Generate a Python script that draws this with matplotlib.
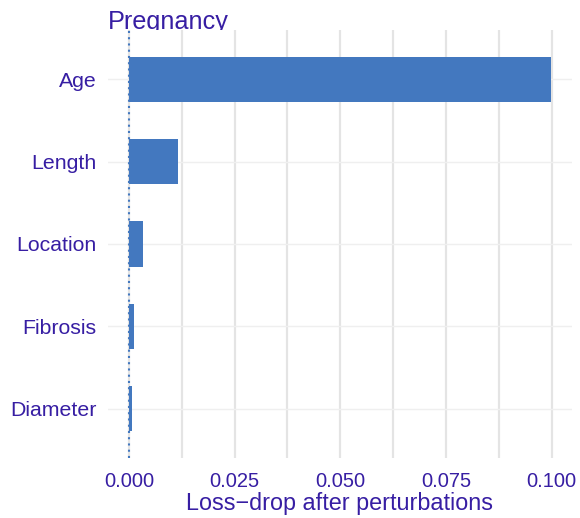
import matplotlib
matplotlib.use("Agg")
import matplotlib.pyplot as plt
import numpy as np

# variable importance (loss-drop after permutations)
features = ["Age", "Length", "Location", "Fibrosis", "Diameter"]
loss_drop = [0.0998, 0.0116, 0.0033, 0.0012, 0.0007]
model_name = "Pregnancy"
x_ticks = [0.0, 0.025, 0.05, 0.075, 0.1]
x_tick_labels = ["0.000", "0.025", "0.050", "0.075", "0.100"]

text_col = "#371EA3"
bar_col = "#4378BF"

plt.rcParams['font.family'] = ['Liberation Sans', 'DejaVu Sans']

fig = plt.figure(figsize=(5.8, 5.18), dpi=100)
ax = fig.add_axes([0.186, 0.116, 0.8, 0.826])
ax.set_facecolor("white")

# top feature at the top
ypos = np.arange(len(features))[::-1] + 1
ax.barh(ypos, loss_drop, height=0.55, left=0, color=bar_col, zorder=3)
ax.axvline(0, color=bar_col, linestyle=(0, (1, 2)), linewidth=1.5, zorder=4)

ax.set_ylim(0.4, len(features) + 0.6)
ax.set_xlim(-0.005, 0.1048)
ax.set_yticks(ypos)
ax.set_yticklabels(features)
ax.set_xticks(x_ticks)
ax.set_xticklabels(x_tick_labels)
ax.set_xticks(np.arange(0.0125, 0.1, 0.025), minor=True)

ax.grid(axis="x", which="both", color="#E4E4E4", linewidth=1.6, zorder=0)
ax.grid(axis="y", which="major", color="#EFEFEF", linewidth=1.0, zorder=0)
for s in ax.spines.values():
    s.set_visible(False)
ax.tick_params(axis="both", which="both", length=0, labelcolor=text_col)
ax.tick_params(axis="y", pad=8, labelsize=15.3)
ax.tick_params(axis="x", pad=10, labelsize=14.5)

ax.set_xlabel("Loss\u2212drop after perturbations", color=text_col,
              fontsize=16.8, labelpad=1)
# title sits behind the panel, so its descenders get hidden
t = fig.text(0.186, 0.944, model_name, color=text_col, fontsize=18.2,
             ha="left", va="baseline")
t.set_zorder(-1)

fig.savefig("out.png", dpi=100)
